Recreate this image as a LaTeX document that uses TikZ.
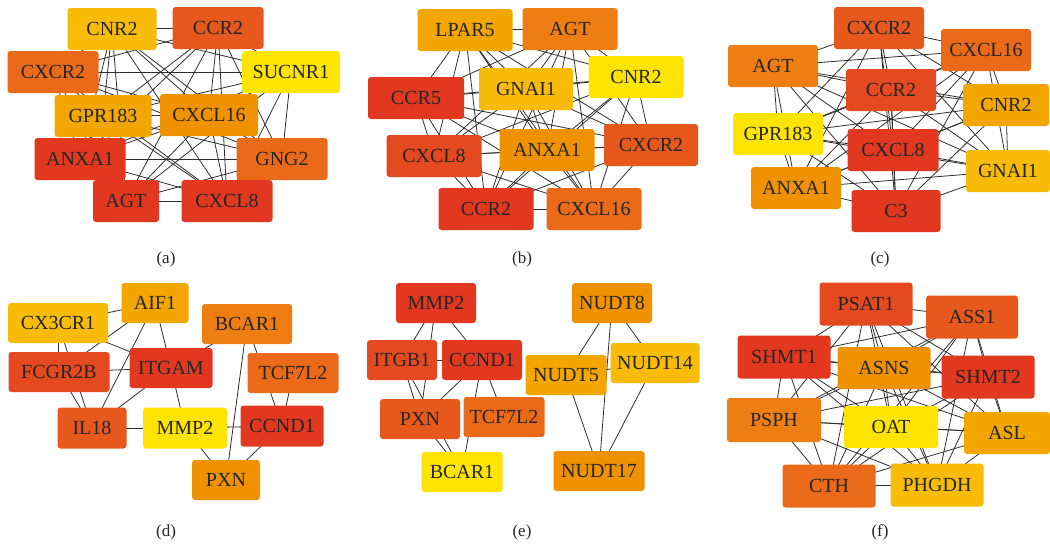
\documentclass[tikz,border=0pt]{standalone}
\usepackage{fontspec}
\setmainfont{Liberation Serif}
\usetikzlibrary{backgrounds}
\definecolor{rA}{HTML}{E2381F}
\definecolor{rB}{HTML}{E4491F}
\definecolor{rC}{HTML}{E7581D}
\definecolor{oA}{HTML}{EA6A19}
\definecolor{oB}{HTML}{EE7D12}
\definecolor{oC}{HTML}{F09200}
\definecolor{oD}{HTML}{F3A500}
\definecolor{gA}{HTML}{F8BC08}
\definecolor{yA}{HTML}{FEE400}
\definecolor{textc}{HTML}{262626}
\definecolor{linkc}{HTML}{2E2E2E}
\newcommand\completegraph[1]{%
  \foreach \u [count=\i] in {#1} {%
    \foreach \v [count=\j] in {#1} {%
      \ifnum\i<\j \draw[link] (\u.center) -- (\v.center);\fi
    }%
  }%
}
\begin{document}
\begin{tikzpicture}[x=1pt,y=-1pt,
  gene/.style={rounded corners=3pt, minimum height=42pt, inner sep=0pt,
    font=\fontsize{20}{24}\selectfont, text=textc},
  link/.style={draw=linkc, line width=0.8pt},
  paneltag/.style={font=\fontsize{17}{20}\selectfont, text=textc}]
\useasboundingbox (0,0) rectangle (1050,550);

% ---------------- (a)
\node[gene, fill=gA, minimum width=89pt] (aCNR2) at (112,29) {CNR2};
\node[gene, fill=rC, minimum width=91pt] (aCCR2) at (218,28) {CCR2};
\node[gene, fill=oA, minimum width=91pt] (aCXCR2) at (53,72) {CXCR2};
\node[gene, fill=yA, minimum width=98pt] (aSUCNR1) at (291,72) {SUCNR1};
\node[gene, fill=oD, minimum width=97pt] (aGPR183) at (103,116) {GPR183};
\node[gene, fill=oC, minimum width=98pt] (aCXCL16) at (209,115) {CXCL16};
\node[gene, fill=rA, minimum width=91pt] (aANXA1) at (80,159) {ANXA1};
\node[gene, fill=oA, minimum width=91pt] (aGNG2) at (282,159) {GNG2};
\node[gene, fill=rA, minimum width=66pt] (aAGT) at (126,201) {AGT};
\node[gene, fill=rA, minimum width=91pt] (aCXCL8) at (227,201) {CXCL8};
\node[paneltag] (ta) at (166,259) {(a)};

% ---------------- (b)
\node[gene, fill=oD, minimum width=95pt] (bLPAR5) at (465,30) {LPAR5};
\node[gene, fill=oB, minimum width=95pt] (bAGT) at (570,29) {AGT};
\node[gene, fill=gA, minimum width=94pt] (bGNAI1) at (526,89) {GNAI1};
\node[gene, fill=yA, minimum width=95pt] (bCNR2) at (636,77) {CNR2};
\node[gene, fill=rA, minimum width=96pt] (bCCR5) at (416,98) {CCR5};
\node[gene, fill=rB, minimum width=95pt] (bCXCL8) at (434,156) {CXCL8};
\node[gene, fill=oC, minimum width=95pt] (bANXA1) at (547,150) {ANXA1};
\node[gene, fill=rC, minimum width=94pt] (bCXCR2) at (651,145) {CXCR2};
\node[gene, fill=rA, minimum width=95pt] (bCCR2) at (486,209) {CCR2};
\node[gene, fill=oA, minimum width=95pt] (bCXCL16) at (594,209) {CXCL16};
\node[paneltag] (tb) at (522,259) {(b)};

% ---------------- (c)
\node[gene, fill=rC, minimum width=90pt] (cCXCR2) at (879,28) {CXCR2};
\node[gene, fill=oA, minimum width=90pt] (cCXCL16) at (986,50) {CXCL16};
\node[gene, fill=oB, minimum width=90pt] (cAGT) at (773,66) {AGT};
\node[gene, fill=rB, minimum width=90pt] (cCCR2) at (891,90) {CCR2};
\node[gene, fill=oD, minimum width=86pt] (cCNR2) at (1006,105) {CNR2};
\node[gene, fill=yA, minimum width=90pt] (cGPR183) at (778,134) {GPR183};
\node[gene, fill=rA, minimum width=91pt] (cCXCL8) at (893,150) {CXCL8};
\node[gene, fill=gA, minimum width=84pt] (cGNAI1) at (1008,171) {GNAI1};
\node[gene, fill=oC, minimum width=90pt] (cANXA1) at (796,188) {ANXA1};
\node[gene, fill=rA, minimum width=89pt] (cC3) at (896,211) {C3};
\node[paneltag] (tc) at (880,259) {(c)};

% ---------------- (d)
\node[gene, fill=oD, minimum width=67pt, minimum height=40pt] (dAIF1) at (155,303) {AIF1};
\node[gene, fill=gA, minimum width=100pt, minimum height=40pt] (dCX3CR1) at (58,323) {CX3CR1};
\node[gene, fill=oB, minimum width=90pt, minimum height=40pt] (dBCAR1) at (247,324) {BCAR1};
\node[gene, fill=rB, minimum width=101pt, minimum height=40pt] (dFCGR2B) at (59,372) {FCGR2B};
\node[gene, fill=rA, minimum width=83pt, minimum height=40pt] (dITGAM) at (171,368) {ITGAM};
\node[gene, fill=oA, minimum width=91pt, minimum height=40pt] (dTCF7L2) at (293,373) {TCF7L2};
\node[gene, fill=rC, minimum width=69pt, minimum height=41pt] (dIL18) at (92,428) {IL18};
\node[gene, fill=yA, minimum width=84pt, minimum height=41pt] (dMMP2) at (185,428) {MMP2};
\node[gene, fill=rA, minimum width=83pt, minimum height=41pt] (dCCND1) at (282,426) {CCND1};
\node[gene, fill=oC, minimum width=68pt, minimum height=40pt] (dPXN) at (226,480) {PXN};
\node[paneltag] (td) at (166,532) {(d)};

% ---------------- (e)
\node[gene, fill=rA, minimum width=80pt, minimum height=40pt] (eMMP2) at (436,303) {MMP2};
\node[gene, fill=rB, minimum width=70pt, minimum height=40pt] (eITGB1) at (402,360) {ITGB1};
\node[gene, fill=rA, minimum width=80pt, minimum height=40pt] (eCCND1) at (482,360) {CCND1};
\node[gene, fill=rC, minimum width=80pt, minimum height=40pt] (ePXN) at (420,419) {PXN};
\node[gene, fill=oA, minimum width=81pt, minimum height=40pt] (eTCF7L2) at (504,417) {TCF7L2};
\node[gene, fill=yA, minimum width=81pt, minimum height=40pt] (eBCAR1) at (462,472) {BCAR1};
\node[gene, fill=oC, minimum width=80pt, minimum height=40pt] (eNUDT8) at (612,303) {NUDT8};
\node[gene, fill=gA, minimum width=89pt, minimum height=40pt] (eNUDT14) at (655,363) {NUDT14};
\node[gene, fill=oD, minimum width=81pt, minimum height=40pt] (eNUDT5) at (566,375) {NUDT5};
\node[gene, fill=oC, minimum width=91pt, minimum height=40pt] (eNUDT17) at (599,471) {NUDT17};
\node[paneltag] (te) at (522,532) {(e)};

% ---------------- (f)
\node[gene, fill=rB, minimum width=93pt, minimum height=43pt] (fPSAT1) at (866,304) {PSAT1};
\node[gene, fill=rC, minimum width=92pt, minimum height=43pt] (fASS1) at (972,317) {ASS1};
\node[gene, fill=rA, minimum width=93pt, minimum height=43pt] (fSHMT1) at (784,357) {SHMT1};
\node[gene, fill=oC, minimum width=93pt, minimum height=42pt] (fASNS) at (884,368) {ASNS};
\node[gene, fill=rA, minimum width=93pt, minimum height=43pt] (fSHMT2) at (988,377) {SHMT2};
\node[gene, fill=oB, minimum width=94pt, minimum height=44pt] (fPSPH) at (774,420) {PSPH};
\node[gene, fill=yA, minimum width=94pt, minimum height=42pt] (fOAT) at (891,427) {OAT};
\node[gene, fill=oD, minimum width=86pt, minimum height=42pt] (fASL) at (1007,433) {ASL};
\node[gene, fill=oA, minimum width=93pt, minimum height=43pt] (fCTH) at (829,486) {CTH};
\node[gene, fill=gA, minimum width=93pt, minimum height=43pt] (fPHGDH) at (937,485) {PHGDH};
\node[paneltag] (tf) at (880,532) {(f)};

\begin{pgfonlayer}{background}
\completegraph{aCNR2,aCCR2,aCXCR2,aSUCNR1,aGPR183,aCXCL16,aANXA1,aGNG2,aAGT,aCXCL8}
\completegraph{bLPAR5,bAGT,bGNAI1,bCNR2,bCCR5,bCXCL8,bANXA1,bCXCR2,bCCR2,bCXCL16}
\completegraph{cCXCR2,cCXCL16,cAGT,cCCR2,cCNR2,cGPR183,cCXCL8,cGNAI1,cANXA1,cC3}
\completegraph{fPSAT1,fASS1,fSHMT1,fASNS,fSHMT2,fPSPH,fOAT,fASL,fCTH,fPHGDH}
% (d)
\draw[link] (dCX3CR1.center) -- (dAIF1.center);
\draw[link] (dCX3CR1.center) -- (dFCGR2B.center);
\draw[link] (dCX3CR1.center) -- (dIL18.center);
\draw[link] (dCX3CR1.center) -- (dITGAM.center);
\draw[link] (dAIF1.center) -- (dFCGR2B.center);
\draw[link] (dAIF1.center) -- (dITGAM.center);
\draw[link] (dAIF1.center) -- (dIL18.center);
\draw[link] (dFCGR2B.center) -- (dITGAM.center);
\draw[link] (dFCGR2B.center) -- (dIL18.center);
\draw[link] (dITGAM.center) -- (dIL18.center);
\draw[link] (dITGAM.center) -- (dMMP2.center);
\draw[link] (dIL18.center) -- (dMMP2.center);
\draw[link] (dBCAR1.center) -- (dITGAM.center);
\draw[link] (dBCAR1.center) -- (dCCND1.center);
\draw[link] (dBCAR1.center) -- (dPXN.center);
\draw[link] (dTCF7L2.center) -- (dCCND1.center);
\draw[link] (dMMP2.center) -- (dCCND1.center);
\draw[link] (dMMP2.center) -- (dPXN.center);
\draw[link] (dCCND1.center) -- (dPXN.center);
% (e)
\draw[link] (eMMP2.center) -- (eITGB1.center);
\draw[link] (eMMP2.center) -- (ePXN.center);
\draw[link] (eMMP2.center) -- (eCCND1.center);
\draw[link] (eITGB1.center) -- (eCCND1.center);
\draw[link] (eITGB1.center) -- (ePXN.center);
\draw[link] (eITGB1.center) -- (eBCAR1.center);
\draw[link] (ePXN.center) -- (eBCAR1.center);
\draw[link] (eCCND1.center) -- (ePXN.center);
\draw[link] (eCCND1.center) -- (eTCF7L2.center);
\draw[link] (eCCND1.center) -- (eBCAR1.center);
\draw[link] (eNUDT8.center) -- (eNUDT5.center);
\draw[link] (eNUDT8.center) -- (eNUDT17.center);
\draw[link] (eNUDT8.center) -- (eNUDT14.center);
\draw[link] (eNUDT5.center) -- (eNUDT14.center);
\draw[link] (eNUDT5.center) -- (eNUDT17.center);
\draw[link] (eNUDT14.center) -- (eNUDT17.center);
\end{pgfonlayer}
\end{tikzpicture}
\end{document}
